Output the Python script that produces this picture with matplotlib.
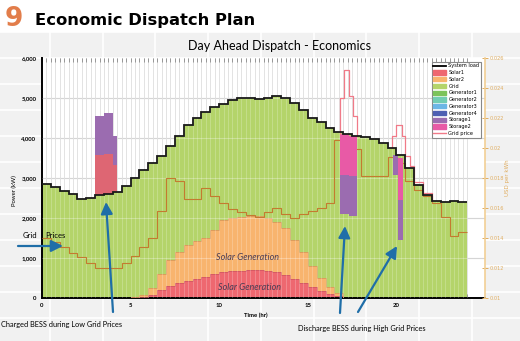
import matplotlib
matplotlib.use("Agg")
import matplotlib.pyplot as plt
import numpy as np
from matplotlib.lines import Line2D
from matplotlib.patches import Patch, Rectangle
from matplotlib.ticker import FixedLocator

# ---- data ----
hours = np.arange(0, 24.01, 0.5)  # half-hour step edges

load = [2840, 2760, 2680, 2590, 2480, 2500, 2560, 2600, 2640, 2800,
        3000, 3190, 3370, 3540, 3790, 4050, 4310, 4500, 4650, 4760,
        4840, 4930, 4980, 4980, 4960, 5000, 5050, 5000, 4860, 4690,
        4500, 4380, 4250, 4150, 4090, 4050, 4010, 3960, 3870, 3740,
        3560, 3250, 2820, 2560, 2420, 2390, 2410, 2390]

solar1 = [0, 0, 0, 0, 0, 0, 0, 0, 0, 0,
          10, 30, 80, 200, 300, 380, 430, 480, 530, 590,
          640, 660, 680, 700, 700, 680, 640, 570, 480, 380,
          280, 180, 100, 40, 0, 0, 0, 0, 0, 0,
          0, 0, 0, 0, 0, 0, 0, 0]

solar2 = [0, 0, 0, 0, 0, 0, 0, 0, 0, 0,
          10, 30, 170, 400, 650, 770, 890, 940, 970, 1110,
          1310, 1340, 1340, 1340, 1350, 1320, 1260, 1180, 970, 770,
          520, 320, 180, 80, 0, 0, 0, 0, 0, 0,
          0, 0, 0, 0, 0, 0, 0, 0]

grid_price = [0.0140, 0.0137, 0.0134, 0.0130, 0.0127, 0.0123, 0.0120, 0.0120, 0.0120, 0.0123,
              0.0128, 0.0134, 0.0140, 0.0158, 0.0180, 0.0178, 0.0166, 0.0166, 0.0173, 0.0168,
              0.0163, 0.0159, 0.0157, 0.0155, 0.0154, 0.0157, 0.0160, 0.0156, 0.0153, 0.0156,
              0.0158, 0.0160, 0.0163, 0.0205, 0.0205, 0.0199, 0.0181, 0.0181, 0.0181, 0.0194,
              0.0190, 0.0178, 0.0172, 0.0168, 0.0163, 0.0154, 0.0141, 0.0144]

# battery charging (stacked above the load)
charge_start = [3.0, 3.5, 4.0]
charge_end = [3.5, 4.0, 4.25]
charge_base = [2570, 2600, 2640]
charge_lower = [1000, 990, 680]
charge_upper = [980, 1020, 730]

# battery discharging (inside the load)
dis_start = [16.8, 17.3, 19.8, 20.1]
dis_end = [17.3, 17.8, 20.1, 20.35]
dis_top = [4080, 4040, 3570, 3490]
dis_storage2 = [1020, 1000, 0, 1040]
dis_storage1 = [960, 1010, 500, 1000]

# pink outline spikes
spike1_t = [16.8, 16.8, 17.05, 17.3, 17.55, 17.8]
spike1_p = [4090, 4990, 5700, 5030, 4530, 4050]
spike2_t = [19.75, 19.75, 19.95, 20.3, 20.5, 20.75, 21.0, 21.5, 22.0]
spike2_p = [3740, 4030, 4320, 4030, 3530, 3300, 2900, 2620, 2420]

power_ticks = [0, 1000, 2000, 3000, 4000, 5000, 6000]
price_ticks = [0.01, 0.012, 0.014, 0.016, 0.018, 0.02, 0.022, 0.024, 0.026]
price_labels = ["0.01", "0.012", "0.014", "0.016", "0.018", "0.02", "0.022", "0.024", "0.026"]
time_ticks = [0, 5, 10, 15, 20]

legend_labels = ["System load", "Solar1", "Solar2", "Grid", "Generator1", "Generator2",
                 "Generator3", "Generator4", "Storage1", "Storage2", "Grid price"]

c_solar1 = "#ee6870"
c_solar2 = "#f8b46e"
c_grid = "#b4d46a"
c_gen = ["#7cc35a", "#72cdb2", "#6cb6e6", "#4d5fb2"]
c_st1 = "#9b6cb0"
c_st2 = "#e85aa6"
c_charge = "#de6673"
c_price = "#c47a30"
c_spike = "#f07a88"
c_arrow = "#1f6ea8"

W, H = 520, 341


def fx(px):
    return px / W


def fy(py):
    return 1 - py / H


fig = plt.figure(figsize=(5.2, 3.41), dpi=100, facecolor="white")

# slide background: light grey cells with white lines
fig.patches.append(Rectangle((0, 0), 1, fy(32), transform=fig.transFigure,
                             facecolor="#f1f1f1", edgecolor="none", zorder=-10))
for xv in np.arange(50, 520, 52.7):
    fig.add_artist(Line2D([fx(xv)] * 2, [0, fy(32)], color="white", lw=1.2, zorder=-9))
for yv in np.arange(32, 341, 26):
    fig.add_artist(Line2D([0, 1], [fy(yv)] * 2, color="white", lw=1.2, zorder=-9))

ax = fig.add_axes([fx(42), fy(297.7), 443 / W, 240 / H])
ax.set_facecolor("white")

s1 = np.array(solar1)
s12 = s1 + np.array(solar2)
ld = np.array(load)

ax.stairs(s1, hours, baseline=0, fill=True, color=c_solar1, zorder=2)
ax.stairs(s12, hours, baseline=s1, fill=True, color=c_solar2, zorder=2)
ax.stairs(ld, hours, baseline=s12, fill=True, color=c_grid, zorder=2)
ax.stairs(s1, hours, baseline=None, color="#cc5560", lw=0.5, zorder=3)
ax.stairs(s12, hours, baseline=None, color="#cf9455", lw=0.5, zorder=3)

# grid lines
qx = np.arange(0.25, 24.01, 0.25)
ax.vlines(qx, 0, 6000, color="#cdcdcd", lw=0.5, zorder=1)
ax.vlines(qx, 0, 6000, color="white", lw=0.5, alpha=0.3, zorder=4)
ax.hlines(power_ticks[1:-1], 0, 25, color="#c4c4c4", lw=0.8, zorder=1)
ax.hlines(power_ticks[1:-1], 0, 25, color="white", lw=0.8, alpha=0.3, zorder=4)

ax.set_xlim(0, 25)
ax.set_ylim(0, 6000)
ax.set_xticks(time_ticks)
ax.set_xticklabels([str(t) for t in time_ticks])
ax.xaxis.set_minor_locator(FixedLocator(qx))
ax.set_yticks(power_ticks)
ax.set_yticklabels([f"{v:,}" for v in power_ticks])
ax.tick_params(axis="y", length=0, pad=4, labelsize=4.3)
ax.tick_params(axis="x", which="both", direction="in", length=3, width=0.5,
               color="#555555", top=True, bottom=True, labelsize=4.3, pad=4)
for lab in ax.get_xticklabels() + ax.get_yticklabels():
    lab.set_fontfamily("Lato")
    lab.set_fontweight("bold")
for side in ["top", "right"]:
    ax.spines[side].set_visible(False)
ax.spines["left"].set_linewidth(1.4)
ax.spines["bottom"].set_linewidth(1.4)

# price axis
ax2 = ax.twinx()
ax2.stairs(grid_price, hours, baseline=None, color=c_price, lw=0.8, zorder=0.5)

# storage bars, spikes and the load line sit above the price line
ax2.bar(charge_start, charge_lower, width=np.subtract(charge_end, charge_start),
        bottom=charge_base, align="edge", color=c_charge, lw=0,
        transform=ax.transData, zorder=2)
ax2.bar(charge_start, charge_upper, width=np.subtract(charge_end, charge_start),
        bottom=np.add(charge_base, charge_lower), align="edge", color=c_st1, lw=0,
        transform=ax.transData, zorder=2)
dis_w = np.subtract(dis_end, dis_start)
dis_bottom = np.subtract(np.subtract(dis_top, dis_storage2), dis_storage1)
ax2.bar(dis_start, dis_storage1, width=dis_w, bottom=dis_bottom, align="edge",
        color=c_st1, lw=0, transform=ax.transData, zorder=2)
ax2.bar(dis_start, dis_storage2, width=dis_w, bottom=np.add(dis_bottom, dis_storage1),
        align="edge", color=c_st2, lw=0, transform=ax.transData, zorder=2)
ax2.plot(spike1_t, spike1_p, drawstyle="steps-post", color=c_spike, lw=0.9,
         transform=ax.transData, zorder=3)
ax2.plot(spike2_t, spike2_p, drawstyle="steps-post", color=c_spike, lw=0.9,
         transform=ax.transData, zorder=3)
ax2.stairs(ld, hours, baseline=None, color="#1a1a1a", lw=1.3,
           transform=ax.transData, zorder=4)

ax2.set_ylim(0.01, 0.026)
ax2.set_yticks(price_ticks)
ax2.set_yticklabels(price_labels)
ax2.tick_params(axis="y", colors="#e0ad60", labelsize=3.6, length=4, width=0.7,
                direction="inout", pad=1.5)
for side in ["left", "top", "bottom"]:
    ax2.spines[side].set_visible(False)
ax2.spines["right"].set_color("#f2cf95")
ax2.spines["right"].set_linewidth(1.2)

handles = [Line2D([], [], color="black", lw=1.3),
           Patch(color=c_solar1), Patch(color=c_solar2), Patch(color=c_grid),
           Patch(color=c_gen[0]), Patch(color=c_gen[1]), Patch(color=c_gen[2]),
           Patch(color=c_gen[3]), Patch(color=c_st1), Patch(color=c_st2),
           Line2D([], [], color=c_spike, lw=1.0)]
leg = ax2.legend(handles, legend_labels, loc="upper right",
                 bbox_to_anchor=(fx(481), fy(62)), bbox_transform=fig.transFigure,
                 fontsize=3.6, frameon=True, fancybox=False, edgecolor="#888888",
                 framealpha=1, borderpad=0.3, labelspacing=0.35, handlelength=2.6,
                 handleheight=0.9, handletextpad=0.5, borderaxespad=0)
leg.get_frame().set_linewidth(0.8)
leg.set_zorder(10)

# header and titles
fig.text(fx(5), fy(26), "9", fontsize=19, fontweight="bold", color="#e27d4a", va="baseline")
fig.text(fx(35), fy(24.5), "Economic Dispatch Plan", fontsize=11.8, fontweight="bold",
         color="black", va="baseline")
fig.text(fx(280), fy(46), "Day Ahead Dispatch - Economics", fontsize=9, family="Lato",
         ha="center", va="center")
fig.text(fx(14), fy(191), "Power (kW)", fontsize=4.3, family="Lato", rotation=90,
         ha="center", va="center")
fig.text(fx(256), fy(315), "Time (hr)", fontsize=4.3, family="Lato", fontweight="bold",
         ha="center", va="center")
fig.text(fx(508), fy(178), "USD per kWh", fontsize=4, color="#e0ad60", rotation=90,
         ha="center", va="center")

# annotations
fig.text(fx(248), fy(257), "Solar Generation", fontsize=6.5, family="Lato", style="italic",
         color="#4a3d55", ha="center", va="center")
fig.text(fx(250), fy(287), "Solar Generation", fontsize=6.5, family="Lato", style="italic",
         color="#4a3d55", ha="center", va="center")
fig.text(fx(23), fy(235), "Grid", fontsize=5.5, family="Lato", va="center")
fig.text(fx(45), fy(235), "Prices", fontsize=5.5, family="Lato", va="center")
fig.text(fx(1), fy(324), "Charged BESS during Low Grid Prices", fontsize=5.3,
         family="Lato", va="center")
fig.text(fx(298), fy(328), "Discharge BESS during High Grid Prices", fontsize=5.3,
         family="Lato", va="center")

arrows = [((18, 246), (63, 246)), ((113, 312), (106, 202)),
          ((340, 313), (345, 226)), ((358, 312), (397, 246))]
for (x0, y0), (x1, y1) in arrows:
    ax2.annotate("", xy=(fx(x1), fy(y1)), xycoords="figure fraction",
                 xytext=(fx(x0), fy(y0)), textcoords="figure fraction",
                 arrowprops=dict(arrowstyle="-|>,head_length=0.7,head_width=0.35",
                                 color=c_arrow, lw=1.6, mutation_scale=10,
                                 shrinkA=0, shrinkB=0),
                 annotation_clip=False, zorder=12)

fig.savefig("out.png", dpi=100, facecolor=fig.get_facecolor())
